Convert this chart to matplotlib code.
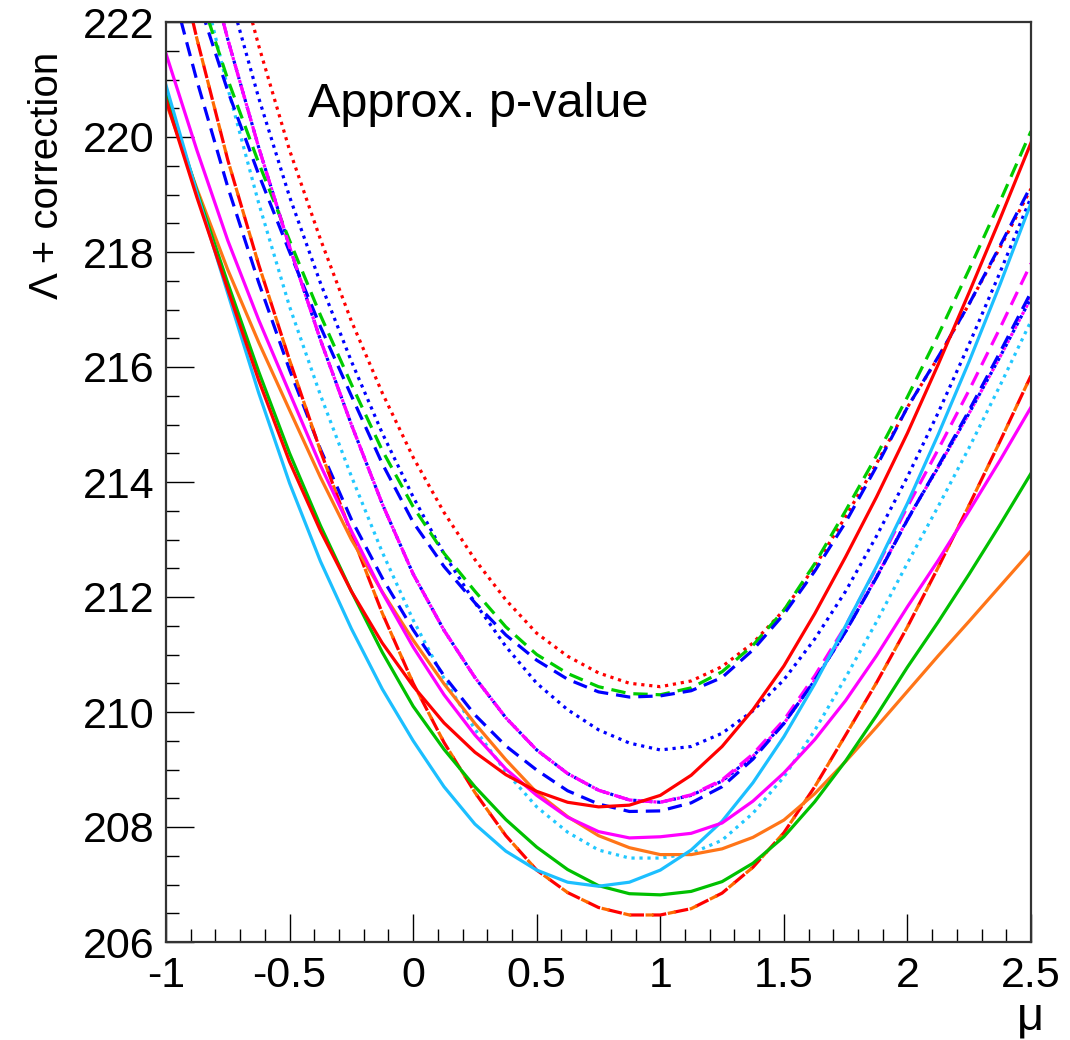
import numpy as np
import matplotlib
matplotlib.use('Agg')
import matplotlib.pyplot as plt
from matplotlib.ticker import MultipleLocator

# mu grid where the curves were read (step 0.125)
mu = [-1.0, -0.875, -0.75, -0.625, -0.5, -0.375, -0.25, -0.125, 0.0, 0.125, 0.25, 0.375, 0.5, 0.625,
      0.75, 0.875, 1.0, 1.125, 1.25, 1.375, 1.5, 1.625, 1.75, 1.875, 2.0, 2.125, 2.25, 2.375, 2.5]

# solid curves
red_solid = [220.65, 218.95, 217.35, 215.77, 214.35, 213.15, 212.10, 211.20, 210.45, 209.81, 209.30, 208.91, 208.62, 208.43,
             208.35, 208.38, 208.55, 208.90, 209.40, 210.04, 210.80, 211.71, 212.70, 213.74, 214.85, 216.05, 217.30, 218.58, 219.90]
magenta_solid = [221.45, 219.77, 218.20, 216.82, 215.55, 214.29, 213.15, 212.08, 211.13, 210.30, 209.60, 209.01, 208.55, 208.17,
                 207.92, 207.81, 207.83, 207.89, 208.07, 208.45, 208.94, 209.52, 210.20, 210.98, 211.83, 212.64, 213.50, 214.38, 215.30]
cyan_solid = [220.90, 219.03, 217.28, 215.55, 213.98, 212.62, 211.45, 210.40, 209.50, 208.70, 208.05, 207.58, 207.25, 207.04,
              206.97, 207.04, 207.25, 207.60, 208.10, 208.77, 209.57, 210.49, 211.50, 212.53, 213.63, 214.83, 216.10, 217.44, 218.85]
green_solid = [220.75, 219.06, 217.46, 215.92, 214.50, 213.24, 212.10, 211.04, 210.10, 209.35, 208.70, 208.13, 207.65, 207.26,
               206.98, 206.84, 206.82, 206.88, 207.05, 207.37, 207.83, 208.44, 209.15, 209.94, 210.78, 211.57, 212.40, 213.26, 214.15]
orange_solid = [220.60, 219.10, 217.69, 216.43, 215.25, 214.08, 213.00, 212.09, 211.25, 210.49, 209.80, 209.17, 208.60, 208.18,
                207.85, 207.64, 207.52, 207.52, 207.62, 207.82, 208.12, 208.58, 209.14, 209.74, 210.36, 210.98, 211.58, 212.19, 212.80]

# dashed curves
redorange_dashed = [224.00, 221.71, 219.60, 217.78, 216.12, 214.54, 213.10, 211.72, 210.50, 209.47, 208.60, 207.85, 207.25, 206.86,
                    206.60, 206.47, 206.47, 206.58, 206.85, 207.30, 207.90, 208.70, 209.60, 210.51, 211.48, 212.52, 213.60, 214.71, 215.85]
blue_dashed_lo = [223.00, 220.98, 219.13, 217.47, 215.95, 214.57, 213.35, 212.33, 211.43, 210.63, 209.95, 209.41, 208.99, 208.63,
                  208.40, 208.27, 208.28, 208.42, 208.70, 209.18, 209.80, 210.55, 211.40, 212.34, 213.34, 214.28, 215.25, 216.26, 217.30]
green_dashed = [224.50, 222.65, 221.00, 219.55, 218.20, 216.90, 215.70, 214.55, 213.57, 212.76, 212.10, 211.48, 211.00, 210.67,
                210.44, 210.32, 210.30, 210.42, 210.70, 211.16, 211.77, 212.58, 213.50, 214.46, 215.48, 216.56, 217.70, 218.88, 220.10]
blue_dashed_hi = [224.30, 222.45, 220.80, 219.35, 218.00, 216.70, 215.50, 214.32, 213.30, 212.53, 211.90, 211.34, 210.90, 210.57,
                  210.35, 210.26, 210.28, 210.37, 210.60, 211.08, 211.70, 212.45, 213.30, 214.27, 215.30, 216.18, 217.10, 218.11, 219.15]
magenta_dashed = [226.00, 223.75, 221.70, 219.82, 218.09, 216.47, 215.00, 213.62, 212.40, 211.42, 210.60, 209.90, 209.34, 208.93,
                  208.64, 208.47, 208.43, 208.56, 208.82, 209.27, 209.86, 210.63, 211.50, 212.51, 213.57, 214.57, 215.60, 216.68, 217.80]

# dotted curves
red_dotted = [228.20, 225.80, 223.60, 221.59, 219.77, 218.22, 216.80, 215.55, 214.43, 213.47, 212.65, 211.95, 211.37, 210.97,
              210.68, 210.50, 210.44, 210.54, 210.79, 211.20, 211.77, 212.53, 213.40, 214.32, 215.30, 216.17, 217.10, 218.08, 219.10]
blue_dotted = [227.00, 224.70, 222.60, 220.68, 218.96, 217.46, 216.10, 214.85, 213.74, 212.75, 211.90, 211.14, 210.50, 210.04,
               209.69, 209.46, 209.34, 209.40, 209.63, 210.02, 210.56, 211.27, 212.10, 213.06, 214.09, 215.21, 216.40, 217.65, 218.95]
blue_dotted2 = [226.00, 223.75, 221.70, 219.82, 218.09, 216.47, 215.00, 213.62, 212.40, 211.42, 210.60, 209.90, 209.34, 208.93,
                208.64, 208.47, 208.43, 208.55, 208.80, 209.23, 209.80, 210.55, 211.40, 212.35, 213.35, 214.26, 215.20, 216.18, 217.20]
cyan_dotted = [225.50, 223.08, 220.85, 218.85, 217.05, 215.51, 214.10, 212.78, 211.60, 210.58, 209.70, 208.96, 208.35, 207.91,
               207.60, 207.46, 207.46, 207.54, 207.77, 208.24, 208.87, 209.68, 210.60, 211.57, 212.59, 213.58, 214.60, 215.68, 216.80]

plt.rcParams['font.family'] = ['Liberation Sans', 'DejaVu Sans']

fig = plt.figure(figsize=(10.7, 10.4), dpi=100)
ax = fig.add_axes([166/1070, 1-942/1040, (1031-166)/1070, (942-22)/1040])

lw = 2.3
dash = (0, (4.5, 2.5))
dot = (0, (1.0, 1.5))

# dotted
ax.plot(mu, red_dotted, color='#ff0000', lw=lw, linestyle=dot)
ax.plot(mu, blue_dotted, color='#0000ff', lw=lw, linestyle=dot)
ax.plot(mu, cyan_dotted, color='#22c8ff', lw=lw, linestyle=dot)
ax.plot(mu, blue_dotted2, color='#ff00ff', lw=lw, linestyle=(1.2, (1.0, 1.5)))
ax.plot(mu, blue_dotted2, color='#0000ff', lw=lw, linestyle=dot)
# dashed
ax.plot(mu, green_dashed, color='#00cc00', lw=lw, linestyle=dash)
ax.plot(mu, blue_dashed_hi, color='#0000ff', lw=lw, linestyle=(3, (4.5, 2.5)))
ax.plot(mu, magenta_dashed, color='#ff00ff', lw=lw, linestyle=dash)
ax.plot(mu, blue_dashed_lo, color='#0000ff', lw=lw, linestyle=dash)
ax.plot(mu, redorange_dashed, color='#ff0000', lw=lw, linestyle=dash)
ax.plot(mu, redorange_dashed, color='#ff6a00', lw=lw, linestyle=(2, (2.5, 4.5)))
# solid
ax.plot(mu, orange_solid, color='#ff7518', lw=lw)
ax.plot(mu, green_solid, color='#00c000', lw=lw)
ax.plot(mu, cyan_solid, color='#1cbfff', lw=lw)
ax.plot(mu, magenta_solid, color='#ff00ff', lw=lw)
ax.plot(mu, red_solid, color='#ff0000', lw=lw)

ax.set_xlim(-1, 2.5)
ax.set_ylim(206, 222)
ax.xaxis.set_minor_locator(MultipleLocator(0.1))
ax.yaxis.set_major_locator(MultipleLocator(2))
ax.yaxis.set_minor_locator(MultipleLocator(0.5))
ax.set_xticks([-1, -0.5, 0, 0.5, 1, 1.5, 2, 2.5])
ax.set_xticklabels(['-1', '-0.5', '0', '0.5', '1', '1.5', '2', '2.5'])

ax.tick_params(which='both', direction='in', top=False, right=False, width=1.0, color='black')
ax.tick_params(which='major', length=20)
ax.tick_params(which='minor', length=9.5)
ax.tick_params(axis='both', labelsize=31)
ax.tick_params(axis='x', pad=10)
ax.tick_params(axis='y', pad=8)
for s in ax.spines.values():
    s.set_linewidth(1.6)
    s.set_color('#333333')

ax.text(0.164, 0.91, 'Approx. p-value', transform=ax.transAxes, fontsize=35, ha='left', va='center')
fig.text(47/1070, 1-52/1040, 'Λ + correction', rotation=90, fontsize=29, ha='center', va='top')
fig.text(1030/1070, 1-1018/1040, 'μ', fontsize=34, ha='center', va='center')

fig.savefig('out.png', dpi=100)
